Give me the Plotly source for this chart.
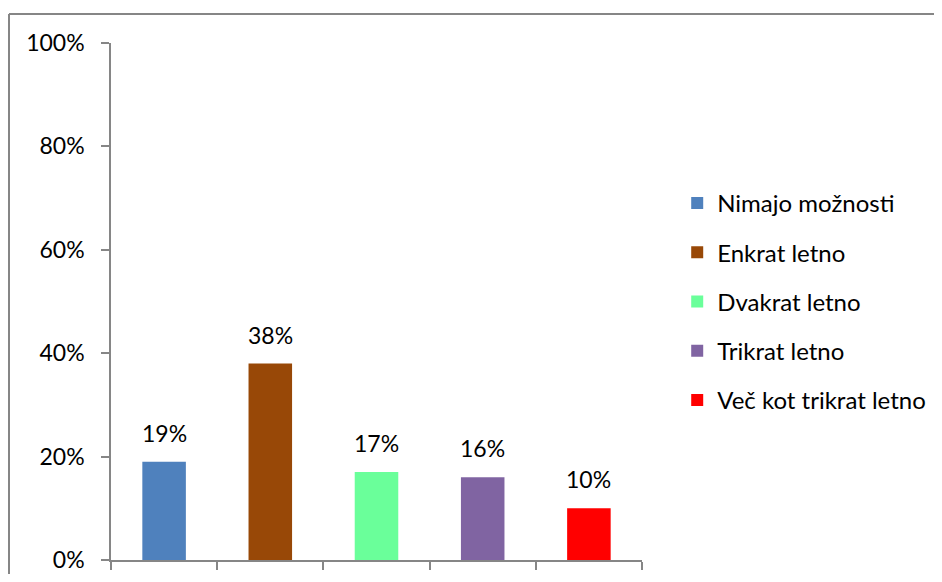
import plotly.graph_objects as go

categories = ["Nimajo možnosti", "Enkrat letno", "Dvakrat letno", "Trikrat letno", "Več kot trikrat letno"]
values = [19, 38, 17, 16, 10]
colors = ["#4F81BD", "#984807", "#6AFF9A", "#8064A2", "#FF0000"]
y_ticks = [0, 20, 40, 60, 80, 100]

FONT = "Lato"
FS = 23
AXIS_COLOR = "#868686"

fig = go.Figure()
for i, (cat, val, col) in enumerate(zip(categories, values, colors)):
    fig.add_trace(go.Bar(
        x=[cat], y=[val], name=cat, marker=dict(color=col, line=dict(width=0)),
        width=0.41, legendgroup=cat, showlegend=True,
    ))
    fig.add_annotation(x=cat, y=val, text=f"{val}%", showarrow=False,
                       yanchor="bottom", yshift=13, font=dict(family=FONT, size=FS, color="black"))

fig.update_layout(
    width=926, height=566,
    margin=dict(l=103, r=292, t=35, b=14, autoexpand=False),
    paper_bgcolor="white", plot_bgcolor="white",
    barmode="overlay",
    font=dict(family=FONT, size=FS, color="black"),
    legend=dict(x=1.0663, xanchor="left", y=0.5, yanchor="middle",
                font=dict(family=FONT, size=24), tracegroupgap=15,
                itemwidth=30, bgcolor="rgba(0,0,0,0)"),
    xaxis=dict(categoryorder="array", categoryarray=categories, range=[-0.5, 4.5],
               showticklabels=False, tickson="boundaries", ticks="outside", ticklen=8,
               tickcolor=AXIS_COLOR, tickwidth=1.5, showline=True, linecolor=AXIS_COLOR,
               linewidth=1.5, showgrid=False, zeroline=False, automargin=False),
    yaxis=dict(range=[0, 100], tickvals=y_ticks, ticktext=[f"{v}%" for v in y_ticks],
               ticks="outside", ticklen=8, tickcolor=AXIS_COLOR, tickwidth=1.5,
               showline=True, linecolor=AXIS_COLOR, linewidth=1.5, showgrid=False,
               zeroline=False, ticklabelstandoff=12, automargin=False,
               tickfont=dict(family=FONT, size=FS, color="black")),
    shapes=[
        dict(type="line", xref="paper", yref="paper", x0=-0.1921, x1=1.8, y0=1.056, y1=1.056,
             line=dict(color=AXIS_COLOR, width=2)),
        dict(type="line", xref="paper", yref="paper", x0=-0.1921, x1=-0.1921, y0=1.056, y1=-0.1,
             line=dict(color=AXIS_COLOR, width=2)),
    ],
)

fig.write_html("out.html")
